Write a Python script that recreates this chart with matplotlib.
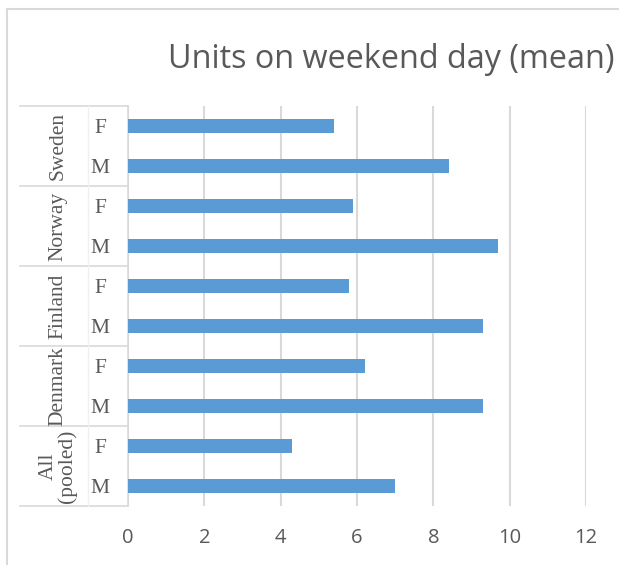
import matplotlib
matplotlib.use('Agg')
import matplotlib.pyplot as plt
from matplotlib.lines import Line2D

countries = ['All\n(pooled)', 'Denmark', 'Finland', 'Norway', 'Sweden']
sexes = ['M', 'F']
# values bottom to top: (M, F) per country
units = [7.0, 4.3, 9.3, 6.2, 9.3, 5.8, 9.7, 5.9, 8.4, 5.4]
xticks = [0, 2, 4, 6, 8, 10, 12]

bar_color = '#5B9BD5'
grid_color = '#D9D9D9'
text_color = '#595959'

fig = plt.figure(figsize=(6.19, 5.65), dpi=100)
ax = fig.add_axes([128 / 619, 1 - 506 / 565, 458 / 619, 400 / 565])

ypos = list(range(len(units)))
ax.barh(ypos, units, height=0.36, color=bar_color, zorder=3)

ax.set_xlim(0, 12)
ax.set_ylim(-0.5, len(units) - 0.5)
ax.set_xticks(xticks)
ax.set_xticklabels([str(t) for t in xticks], fontsize=14.5, color=text_color,
                   family='Open Sans')
ax.tick_params(axis='x', length=0, pad=16)
ax.set_yticks([])
ax.grid(axis='x', color=grid_color, linewidth=1.5, zorder=0)
for s in ['top', 'right', 'bottom']:
    ax.spines[s].set_visible(False)
ax.spines['left'].set_color(grid_color)
ax.spines['left'].set_linewidth(1.2)

# category table on the left
tr = ax.get_yaxis_transform()
x_out = (20 - 128) / 458
x_mid = (88 - 128) / 458
for k in range(len(countries) + 1):
    y = -0.5 + 2 * k
    ax.plot([x_out, 0], [y, y], transform=tr, color=grid_color, lw=1.2,
            clip_on=False)
ax.plot([x_mid, x_mid], [-0.5, len(units) - 0.5], transform=tr,
        color='#F0F0F0', lw=1.0, clip_on=False)

for i, c in enumerate(countries):
    ax.text((58 - 128) / 458, 2 * i + 0.5, c, transform=tr,
            rotation=90, ha='center', va='center', fontsize=15.5,
            family='Liberation Serif', color=text_color, linespacing=0.95)
    for j, s in enumerate(sexes):
        ax.text((100 - 128) / 458, 2 * i + j, s, transform=tr,
                ha='center', va='center_baseline', fontsize=15.5,
                family='Liberation Serif', color=text_color)

fig.text(391 / 619, 1 - 59 / 565, 'Units on weekend day (mean)', ha='center',
         va='center', fontsize=23.3, color=text_color, family='Open Sans')

# chart frame
fig.add_artist(Line2D([7 / 619, 7 / 619], [0, 1 - 9 / 565],
                      transform=fig.transFigure, color=grid_color, lw=1.5))
fig.add_artist(Line2D([7 / 619, 1], [1 - 9 / 565, 1 - 9 / 565],
                      transform=fig.transFigure, color=grid_color, lw=1.5))

fig.savefig('out.png', dpi=100)
